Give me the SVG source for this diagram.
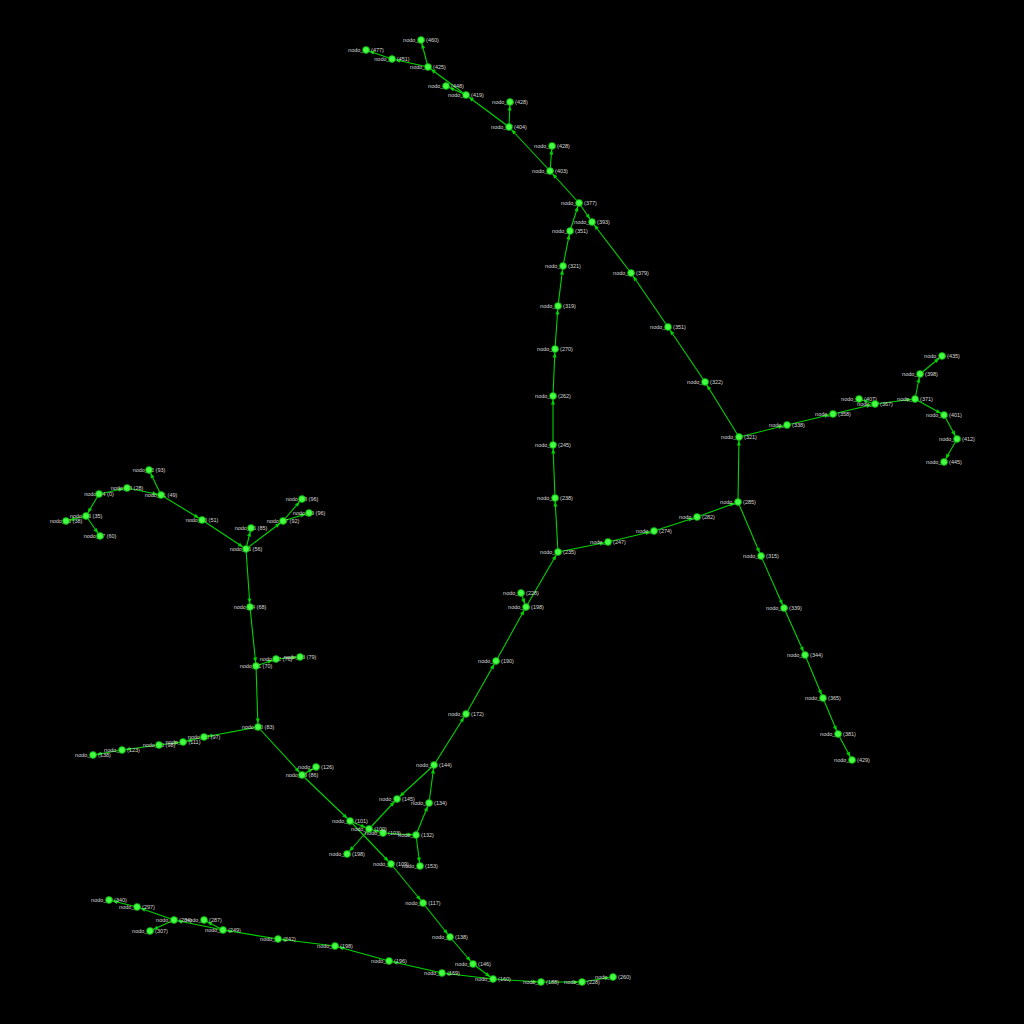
<svg xmlns="http://www.w3.org/2000/svg" width="1024" height="1024" viewBox="0 0 1024 1024">
<defs>
<style>
.edges line{stroke:#00d400;stroke-width:1.1;marker-end:url(#arr)}
.node circle{fill:#44ff44;stroke:#00a800;stroke-width:0.8}
.node text{font-family:"Liberation Sans",Arial,sans-serif;font-size:5.5px;fill:#d8d8d8;text-anchor:middle}
</style>
<marker id="arr" markerUnits="userSpaceOnUse" markerWidth="5" markerHeight="4" refX="8.5" refY="2" orient="auto" overflow="visible">
<path d="M0,0 L5,2 L0,4 z" fill="#00d400"/>
</marker>
</defs>
<rect width="1024" height="1024" fill="#000"/>
<g id="edges" class="edges">
<line x1="392" y1="59" x2="366" y2="50"/>
<line x1="428" y1="67" x2="392" y2="59"/>
<line x1="428" y1="67" x2="421" y2="40"/>
<line x1="466" y1="95" x2="428" y2="67"/>
<line x1="466" y1="95" x2="446" y2="86"/>
<line x1="509" y1="127" x2="466" y2="95"/>
<line x1="509" y1="127" x2="510" y2="102"/>
<line x1="550" y1="171" x2="509" y2="127"/>
<line x1="550" y1="171" x2="552" y2="146"/>
<line x1="579" y1="203" x2="550" y2="171"/>
<line x1="579" y1="203" x2="592" y2="222"/>
<line x1="570" y1="231" x2="579" y2="203"/>
<line x1="563" y1="266" x2="570" y2="231"/>
<line x1="558" y1="306" x2="563" y2="266"/>
<line x1="555" y1="349" x2="558" y2="306"/>
<line x1="553" y1="396" x2="555" y2="349"/>
<line x1="553" y1="445" x2="553" y2="396"/>
<line x1="555" y1="498" x2="553" y2="445"/>
<line x1="558" y1="552" x2="555" y2="498"/>
<line x1="631" y1="273" x2="592" y2="222"/>
<line x1="668" y1="327" x2="631" y2="273"/>
<line x1="705" y1="382" x2="668" y2="327"/>
<line x1="739" y1="437" x2="705" y2="382"/>
<line x1="739" y1="437" x2="787" y2="425"/>
<line x1="787" y1="425" x2="833" y2="414"/>
<line x1="833" y1="414" x2="875" y2="404"/>
<line x1="875" y1="404" x2="859" y2="399"/>
<line x1="875" y1="404" x2="915" y2="399"/>
<line x1="915" y1="399" x2="920" y2="374"/>
<line x1="920" y1="374" x2="942" y2="356"/>
<line x1="915" y1="399" x2="944" y2="415"/>
<line x1="944" y1="415" x2="957" y2="439"/>
<line x1="957" y1="439" x2="944" y2="462"/>
<line x1="738" y1="502" x2="739" y2="437"/>
<line x1="697" y1="517" x2="738" y2="502"/>
<line x1="654" y1="531" x2="697" y2="517"/>
<line x1="608" y1="542" x2="654" y2="531"/>
<line x1="558" y1="552" x2="608" y2="542"/>
<line x1="738" y1="502" x2="761" y2="556"/>
<line x1="761" y1="556" x2="784" y2="608"/>
<line x1="784" y1="608" x2="805" y2="655"/>
<line x1="805" y1="655" x2="823" y2="698"/>
<line x1="823" y1="698" x2="838" y2="734"/>
<line x1="838" y1="734" x2="852" y2="760"/>
<line x1="526" y1="607" x2="558" y2="552"/>
<line x1="521" y1="593" x2="526" y2="607"/>
<line x1="496" y1="661" x2="526" y2="607"/>
<line x1="466" y1="714" x2="496" y2="661"/>
<line x1="434" y1="765" x2="466" y2="714"/>
<line x1="434" y1="765" x2="397" y2="799"/>
<line x1="429" y1="803" x2="434" y2="765"/>
<line x1="416" y1="835" x2="429" y2="803"/>
<line x1="416" y1="835" x2="420" y2="866"/>
<line x1="369" y1="829" x2="397" y2="799"/>
<line x1="369" y1="829" x2="347" y2="854"/>
<line x1="350" y1="821" x2="369" y2="829"/>
<line x1="369" y1="829" x2="383" y2="833"/>
<line x1="383" y1="833" x2="416" y2="835"/>
<line x1="350" y1="821" x2="391" y2="864"/>
<line x1="302" y1="775" x2="350" y2="821"/>
<line x1="258" y1="727" x2="302" y2="775"/>
<line x1="302" y1="775" x2="316" y2="767"/>
<line x1="391" y1="864" x2="423" y2="903"/>
<line x1="423" y1="903" x2="450" y2="937"/>
<line x1="450" y1="937" x2="473" y2="964"/>
<line x1="473" y1="964" x2="493" y2="979"/>
<line x1="493" y1="979" x2="541" y2="982"/>
<line x1="541" y1="982" x2="582" y2="982"/>
<line x1="582" y1="982" x2="613" y2="977"/>
<line x1="493" y1="979" x2="442" y2="973"/>
<line x1="442" y1="973" x2="389" y2="961"/>
<line x1="389" y1="961" x2="335" y2="946"/>
<line x1="335" y1="946" x2="278" y2="939"/>
<line x1="278" y1="939" x2="223" y2="930"/>
<line x1="223" y1="930" x2="174" y2="920"/>
<line x1="223" y1="930" x2="204" y2="920"/>
<line x1="174" y1="920" x2="137" y2="907"/>
<line x1="174" y1="920" x2="150" y2="931"/>
<line x1="137" y1="907" x2="109" y2="900"/>
<line x1="250" y1="607" x2="256" y2="666"/>
<line x1="256" y1="666" x2="258" y2="727"/>
<line x1="256" y1="666" x2="276" y2="659"/>
<line x1="276" y1="659" x2="300" y2="657"/>
<line x1="246" y1="549" x2="250" y2="607"/>
<line x1="246" y1="549" x2="251" y2="528"/>
<line x1="246" y1="549" x2="283" y2="521"/>
<line x1="283" y1="521" x2="302" y2="499"/>
<line x1="283" y1="521" x2="309" y2="513"/>
<line x1="202" y1="520" x2="246" y2="549"/>
<line x1="161" y1="495" x2="202" y2="520"/>
<line x1="161" y1="495" x2="149" y2="470"/>
<line x1="127" y1="488" x2="161" y2="495"/>
<line x1="99" y1="494" x2="127" y2="488"/>
<line x1="99" y1="494" x2="86" y2="516"/>
<line x1="86" y1="516" x2="66" y2="521"/>
<line x1="86" y1="516" x2="100" y2="536"/>
<line x1="258" y1="727" x2="204" y2="737"/>
<line x1="204" y1="737" x2="183" y2="742"/>
<line x1="159" y1="745" x2="183" y2="742"/>
<line x1="159" y1="745" x2="122" y2="750"/>
<line x1="122" y1="750" x2="93" y2="755"/>
</g>
<g id="n10" class="node"><text x="366" y="52">nodo_10 (477)</text><circle cx="366" cy="50" r="3.4"/></g>
<g id="n11" class="node"><text x="392" y="61">nodo_11 (451)</text><circle cx="392" cy="59" r="3.4"/></g>
<g id="n12" class="node"><text x="428" y="69">nodo_12 (425)</text><circle cx="428" cy="67" r="3.4"/></g>
<g id="n13" class="node"><text x="421" y="42">nodo_13 (460)</text><circle cx="421" cy="40" r="3.4"/></g>
<g id="n14" class="node"><text x="446" y="88">nodo_14 (448)</text><circle cx="446" cy="86" r="3.4"/></g>
<g id="n15" class="node"><text x="466" y="97">nodo_15 (419)</text><circle cx="466" cy="95" r="3.4"/></g>
<g id="n16" class="node"><text x="510" y="104">nodo_16 (428)</text><circle cx="510" cy="102" r="3.4"/></g>
<g id="n17" class="node"><text x="509" y="129">nodo_17 (404)</text><circle cx="509" cy="127" r="3.4"/></g>
<g id="n18" class="node"><text x="552" y="148">nodo_18 (428)</text><circle cx="552" cy="146" r="3.4"/></g>
<g id="n19" class="node"><text x="550" y="173">nodo_19 (403)</text><circle cx="550" cy="171" r="3.4"/></g>
<g id="n20" class="node"><text x="579" y="205">nodo_20 (377)</text><circle cx="579" cy="203" r="3.4"/></g>
<g id="n21" class="node"><text x="592" y="224">nodo_21 (393)</text><circle cx="592" cy="222" r="3.4"/></g>
<g id="n22" class="node"><text x="570" y="233">nodo_22 (351)</text><circle cx="570" cy="231" r="3.4"/></g>
<g id="n23" class="node"><text x="563" y="268">nodo_23 (321)</text><circle cx="563" cy="266" r="3.4"/></g>
<g id="n24" class="node"><text x="558" y="308">nodo_24 (319)</text><circle cx="558" cy="306" r="3.4"/></g>
<g id="n25" class="node"><text x="555" y="351">nodo_25 (270)</text><circle cx="555" cy="349" r="3.4"/></g>
<g id="n26" class="node"><text x="553" y="398">nodo_26 (262)</text><circle cx="553" cy="396" r="3.4"/></g>
<g id="n27" class="node"><text x="553" y="447">nodo_27 (245)</text><circle cx="553" cy="445" r="3.4"/></g>
<g id="n28" class="node"><text x="555" y="500">nodo_28 (238)</text><circle cx="555" cy="498" r="3.4"/></g>
<g id="n29" class="node"><text x="558" y="554">nodo_29 (235)</text><circle cx="558" cy="552" r="3.4"/></g>
<g id="n30" class="node"><text x="631" y="275">nodo_30 (379)</text><circle cx="631" cy="273" r="3.4"/></g>
<g id="n31" class="node"><text x="668" y="329">nodo_31 (351)</text><circle cx="668" cy="327" r="3.4"/></g>
<g id="n32" class="node"><text x="705" y="384">nodo_32 (322)</text><circle cx="705" cy="382" r="3.4"/></g>
<g id="n33" class="node"><text x="739" y="439">nodo_33 (321)</text><circle cx="739" cy="437" r="3.4"/></g>
<g id="n34" class="node"><text x="787" y="427">nodo_34 (338)</text><circle cx="787" cy="425" r="3.4"/></g>
<g id="n35" class="node"><text x="833" y="416">nodo_35 (358)</text><circle cx="833" cy="414" r="3.4"/></g>
<g id="n36" class="node"><text x="859" y="401">nodo_36 (407)</text><circle cx="859" cy="399" r="3.4"/></g>
<g id="n37" class="node"><text x="875" y="406">nodo_37 (367)</text><circle cx="875" cy="404" r="3.4"/></g>
<g id="n38" class="node"><text x="915" y="401">nodo_38 (371)</text><circle cx="915" cy="399" r="3.4"/></g>
<g id="n39" class="node"><text x="920" y="376">nodo_39 (398)</text><circle cx="920" cy="374" r="3.4"/></g>
<g id="n40" class="node"><text x="942" y="358">nodo_40 (435)</text><circle cx="942" cy="356" r="3.4"/></g>
<g id="n41" class="node"><text x="944" y="417">nodo_41 (401)</text><circle cx="944" cy="415" r="3.4"/></g>
<g id="n42" class="node"><text x="957" y="441">nodo_42 (412)</text><circle cx="957" cy="439" r="3.4"/></g>
<g id="n43" class="node"><text x="944" y="464">nodo_43 (445)</text><circle cx="944" cy="462" r="3.4"/></g>
<g id="n44" class="node"><text x="738" y="504">nodo_44 (285)</text><circle cx="738" cy="502" r="3.4"/></g>
<g id="n45" class="node"><text x="697" y="519">nodo_45 (282)</text><circle cx="697" cy="517" r="3.4"/></g>
<g id="n46" class="node"><text x="654" y="533">nodo_46 (274)</text><circle cx="654" cy="531" r="3.4"/></g>
<g id="n47" class="node"><text x="608" y="544">nodo_47 (247)</text><circle cx="608" cy="542" r="3.4"/></g>
<g id="n48" class="node"><text x="761" y="558">nodo_48 (315)</text><circle cx="761" cy="556" r="3.4"/></g>
<g id="n49" class="node"><text x="784" y="610">nodo_49 (339)</text><circle cx="784" cy="608" r="3.4"/></g>
<g id="n50" class="node"><text x="805" y="657">nodo_50 (344)</text><circle cx="805" cy="655" r="3.4"/></g>
<g id="n51" class="node"><text x="823" y="700">nodo_51 (365)</text><circle cx="823" cy="698" r="3.4"/></g>
<g id="n52" class="node"><text x="838" y="736">nodo_52 (381)</text><circle cx="838" cy="734" r="3.4"/></g>
<g id="n53" class="node"><text x="852" y="762">nodo_53 (429)</text><circle cx="852" cy="760" r="3.4"/></g>
<g id="n54" class="node"><text x="521" y="595">nodo_54 (228)</text><circle cx="521" cy="593" r="3.4"/></g>
<g id="n55" class="node"><text x="526" y="609">nodo_55 (198)</text><circle cx="526" cy="607" r="3.4"/></g>
<g id="n56" class="node"><text x="496" y="663">nodo_56 (190)</text><circle cx="496" cy="661" r="3.4"/></g>
<g id="n57" class="node"><text x="466" y="716">nodo_57 (172)</text><circle cx="466" cy="714" r="3.4"/></g>
<g id="n58" class="node"><text x="434" y="767">nodo_58 (144)</text><circle cx="434" cy="765" r="3.4"/></g>
<g id="n59" class="node"><text x="397" y="801">nodo_59 (145)</text><circle cx="397" cy="799" r="3.4"/></g>
<g id="n60" class="node"><text x="429" y="805">nodo_60 (134)</text><circle cx="429" cy="803" r="3.4"/></g>
<g id="n61" class="node"><text x="416" y="837">nodo_61 (132)</text><circle cx="416" cy="835" r="3.4"/></g>
<g id="n62" class="node"><text x="420" y="868">nodo_62 (153)</text><circle cx="420" cy="866" r="3.4"/></g>
<g id="n63" class="node"><text x="383" y="835">nodo_63 (103)</text><circle cx="383" cy="833" r="3.4"/></g>
<g id="n64" class="node"><text x="369" y="831">nodo_64 (100)</text><circle cx="369" cy="829" r="3.4"/></g>
<g id="n65" class="node"><text x="350" y="823">nodo_65 (101)</text><circle cx="350" cy="821" r="3.4"/></g>
<g id="n66" class="node"><text x="347" y="856">nodo_66 (198)</text><circle cx="347" cy="854" r="3.4"/></g>
<g id="n67" class="node"><text x="391" y="866">nodo_67 (109)</text><circle cx="391" cy="864" r="3.4"/></g>
<g id="n68" class="node"><text x="302" y="777">nodo_68 (86)</text><circle cx="302" cy="775" r="3.4"/></g>
<g id="n69" class="node"><text x="316" y="769">nodo_69 (126)</text><circle cx="316" cy="767" r="3.4"/></g>
<g id="n70" class="node"><text x="258" y="729">nodo_70 (83)</text><circle cx="258" cy="727" r="3.4"/></g>
<g id="n71" class="node"><text x="256" y="668">nodo_71 (70)</text><circle cx="256" cy="666" r="3.4"/></g>
<g id="n72" class="node"><text x="276" y="661">nodo_72 (76)</text><circle cx="276" cy="659" r="3.4"/></g>
<g id="n73" class="node"><text x="300" y="659">nodo_73 (79)</text><circle cx="300" cy="657" r="3.4"/></g>
<g id="n74" class="node"><text x="250" y="609">nodo_74 (68)</text><circle cx="250" cy="607" r="3.4"/></g>
<g id="n75" class="node"><text x="246" y="551">nodo_75 (56)</text><circle cx="246" cy="549" r="3.4"/></g>
<g id="n76" class="node"><text x="251" y="530">nodo_76 (85)</text><circle cx="251" cy="528" r="3.4"/></g>
<g id="n77" class="node"><text x="283" y="523">nodo_77 (92)</text><circle cx="283" cy="521" r="3.4"/></g>
<g id="n78" class="node"><text x="302" y="501">nodo_78 (96)</text><circle cx="302" cy="499" r="3.4"/></g>
<g id="n79" class="node"><text x="309" y="515">nodo_79 (96)</text><circle cx="309" cy="513" r="3.4"/></g>
<g id="n80" class="node"><text x="202" y="522">nodo_80 (51)</text><circle cx="202" cy="520" r="3.4"/></g>
<g id="n81" class="node"><text x="161" y="497">nodo_81 (49)</text><circle cx="161" cy="495" r="3.4"/></g>
<g id="n82" class="node"><text x="149" y="472">nodo_82 (93)</text><circle cx="149" cy="470" r="3.4"/></g>
<g id="n83" class="node"><text x="127" y="490">nodo_83 (28)</text><circle cx="127" cy="488" r="3.4"/></g>
<g id="n84" class="node"><text x="99" y="496">nodo_84 (0)</text><circle cx="99" cy="494" r="3.4"/></g>
<g id="n85" class="node"><text x="86" y="518">nodo_85 (35)</text><circle cx="86" cy="516" r="3.4"/></g>
<g id="n86" class="node"><text x="66" y="523">nodo_86 (38)</text><circle cx="66" cy="521" r="3.4"/></g>
<g id="n87" class="node"><text x="100" y="538">nodo_87 (60)</text><circle cx="100" cy="536" r="3.4"/></g>
<g id="n88" class="node"><text x="204" y="739">nodo_88 (97)</text><circle cx="204" cy="737" r="3.4"/></g>
<g id="n89" class="node"><text x="183" y="744">nodo_89 (111)</text><circle cx="183" cy="742" r="3.4"/></g>
<g id="n90" class="node"><text x="159" y="747">nodo_90 (98)</text><circle cx="159" cy="745" r="3.4"/></g>
<g id="n91" class="node"><text x="122" y="752">nodo_91 (123)</text><circle cx="122" cy="750" r="3.4"/></g>
<g id="n92" class="node"><text x="93" y="757">nodo_92 (138)</text><circle cx="93" cy="755" r="3.4"/></g>
<g id="n93" class="node"><text x="423" y="905">nodo_93 (117)</text><circle cx="423" cy="903" r="3.4"/></g>
<g id="n94" class="node"><text x="450" y="939">nodo_94 (138)</text><circle cx="450" cy="937" r="3.4"/></g>
<g id="n95" class="node"><text x="473" y="966">nodo_95 (146)</text><circle cx="473" cy="964" r="3.4"/></g>
<g id="n96" class="node"><text x="493" y="981">nodo_96 (160)</text><circle cx="493" cy="979" r="3.4"/></g>
<g id="n97" class="node"><text x="541" y="984">nodo_97 (188)</text><circle cx="541" cy="982" r="3.4"/></g>
<g id="n98" class="node"><text x="582" y="984">nodo_98 (228)</text><circle cx="582" cy="982" r="3.4"/></g>
<g id="n99" class="node"><text x="613" y="979">nodo_99 (260)</text><circle cx="613" cy="977" r="3.4"/></g>
<g id="n01" class="node"><text x="442" y="975">nodo_01 (169)</text><circle cx="442" cy="973" r="3.4"/></g>
<g id="n02" class="node"><text x="389" y="963">nodo_02 (196)</text><circle cx="389" cy="961" r="3.4"/></g>
<g id="n03" class="node"><text x="335" y="948">nodo_03 (198)</text><circle cx="335" cy="946" r="3.4"/></g>
<g id="n04" class="node"><text x="278" y="941">nodo_04 (242)</text><circle cx="278" cy="939" r="3.4"/></g>
<g id="n05" class="node"><text x="223" y="932">nodo_05 (249)</text><circle cx="223" cy="930" r="3.4"/></g>
<g id="n06" class="node"><text x="204" y="922">nodo_06 (287)</text><circle cx="204" cy="920" r="3.4"/></g>
<g id="n07" class="node"><text x="174" y="922">nodo_07 (284)</text><circle cx="174" cy="920" r="3.4"/></g>
<g id="n08" class="node"><text x="150" y="933">nodo_08 (307)</text><circle cx="150" cy="931" r="3.4"/></g>
<g id="n09" class="node"><text x="137" y="909">nodo_09 (297)</text><circle cx="137" cy="907" r="3.4"/></g>
<g id="n00" class="node"><text x="109" y="902">nodo_00 (340)</text><circle cx="109" cy="900" r="3.4"/></g>
</svg>
